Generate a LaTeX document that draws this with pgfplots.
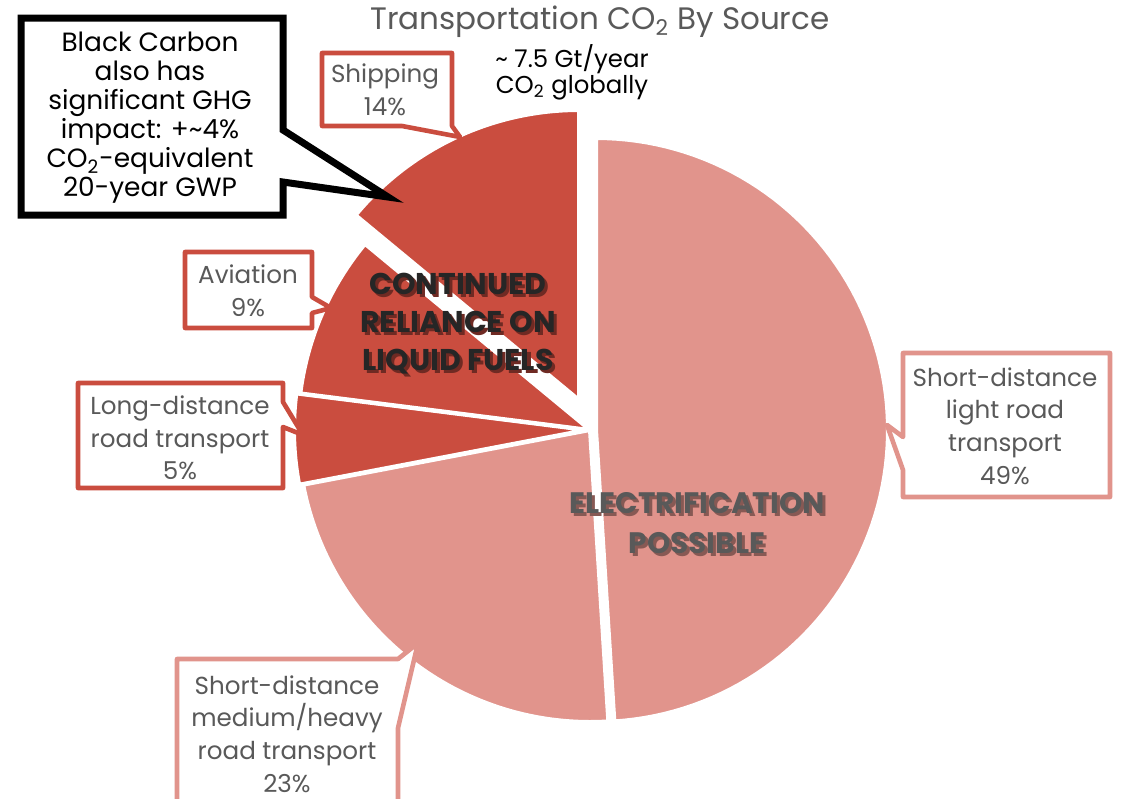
\documentclass[border=0pt]{standalone}
\usepackage{fontspec}
\setmainfont{Poppins}
\usepackage{pgfplots}
\pgfplotsset{compat=1.18}
\definecolor{lightslice}{HTML}{E1948C}
\definecolor{darkslice}{HTML}{CA4D3F}
\definecolor{labelgray}{HTML}{595959}
\definecolor{boldgray}{HTML}{262626}
\colorlet{darkshadow}{darkslice!55!black}
\colorlet{lightshadow}{lightslice!60!black}
\newcommand{\fs}[2]{\fontsize{#1}{#2}\selectfont}
% text with a drop shadow set in the same box
\newcommand{\sh}[2]{\makebox[0pt][l]{\hspace{1.5pt}\raisebox{-1.5pt}{\textcolor{#1}{#2}}}#2}

\begin{document}
\begin{tikzpicture}
\begin{axis}[
    hide axis, scale only axis,
    width=561pt, height=399pt,
    xmin=0, xmax=1122, ymin=0, ymax=798, y dir=reverse,
    clip=false,
    every axis plot/.append style={draw=white, line width=2pt, line join=round, samples=90},
  ]
  % shares in percent, clockwise from 12 o'clock (3.6 deg per percent)
  \addplot[fill=lightslice, domain=3.6*0:3.6*49] ({596+292*sin(x)},{430-292*cos(x)}) -- (axis cs:596,430) -- cycle;
  \addplot[fill=lightslice, domain=3.6*49:3.6*72] ({590+292*sin(x)},{430-292*cos(x)}) -- (axis cs:590,430) -- cycle;
  \addplot[fill=darkslice, domain=3.6*72:3.6*77] ({586+292*sin(x)},{430-292*cos(x)}) -- (axis cs:586,430) -- cycle;
  \addplot[fill=darkslice, domain=3.6*77:3.6*86] ({590+292*sin(x)},{430-292*cos(x)}) -- (axis cs:590,430) -- cycle;
  \addplot[fill=darkslice, domain=3.6*86:3.6*100] ({579+290*sin(x)},{400-290*cos(x)}) -- (axis cs:579,400) -- cycle;

  % callouts
  \begin{scope}[line width=2.3pt, line join=round]
    \draw[darkslice, fill=white] (axis cs:322,53) -- (axis cs:452,53) -- (axis cs:452,126) -- (axis cs:460,137) -- (axis cs:402,126) -- (axis cs:322,126) -- cycle;
    \draw[darkslice, fill=white] (axis cs:185,252) -- (axis cs:312,252) -- (axis cs:312,297) -- (axis cs:331,308) -- (axis cs:312,313) -- (axis cs:312,328) -- (axis cs:185,328) -- cycle;
    \draw[darkslice, fill=white] (axis cs:78,383) -- (axis cs:283,383) -- (axis cs:283,402) -- (axis cs:303,435) -- (axis cs:283,427) -- (axis cs:283,488) -- (axis cs:78,488) -- cycle;
    \draw[lightslice, fill=white] (axis cs:903,353) -- (axis cs:1110,353) -- (axis cs:1110,497) -- (axis cs:903,497) -- (axis cs:903,470) -- (axis cs:887,425) -- (axis cs:903,437) -- cycle;
    \draw[lightslice, fill=white] (axis cs:177,805) -- (axis cs:177,659) -- (axis cs:398,659) -- (axis cs:418,643) -- (axis cs:398,728) -- (axis cs:398,805);
  \end{scope}
  \draw[black, line width=3.5pt, fill=white, line join=miter] (axis cs:21,18) -- (axis cs:283,18) -- (axis cs:283,130) -- (axis cs:388,197) -- (axis cs:283,182) -- (axis cs:283,215) -- (axis cs:21,215) -- cycle;

  % texts
  \node[text=labelgray, font=\fs{15.5}{18}] at (axis cs:600,22) {Transportation CO\textsubscript{2} By Source};
  \node[text=black, align=center, font=\fs{12.2}{12.8}] at (axis cs:572,72) {\textasciitilde{} 7.5 Gt/year\\CO\textsubscript{2} globally};
  \node[text=black, align=center, font=\fs{13.2}{14.5}] at (axis cs:150,118) {Black Carbon\\also has\\significant GHG\\impact: +\textasciitilde4\%\\CO\textsubscript{2}-equivalent\\20-year GWP};
  \begin{scope}[text=labelgray, align=center, font=\fs{12.3}{16.3}]
    \node at (axis cs:385,90) {Shipping\\14\%};
    \node at (axis cs:248,291) {Aviation\\9\%};
    \node at (axis cs:180,438) {Long-distance\\road transport\\5\%};
    \node at (axis cs:1005,426) {Short-distance\\light road\\transport\\49\%};
    \node at (axis cs:287,734) {Short-distance\\medium/heavy\\road transport\\23\%};
  \end{scope}
  \node[text=boldgray, align=center, font=\fs{15}{19}\bfseries] at (axis cs:458,325)
    {\sh{darkshadow}{CONTINUED}\\\sh{darkshadow}{RELIANCE ON}\\\sh{darkshadow}{LIQUID FUELS}};
  \node[text=labelgray, align=center, font=\fs{14.8}{20}\bfseries] at (axis cs:697,525)
    {\sh{lightshadow}{ELECTRIFICATION}\\\sh{lightshadow}{POSSIBLE}};
\end{axis}
\pgfresetboundingbox
\path[use as bounding box] (current axis.south west) rectangle (current axis.north east);
\end{tikzpicture}
\end{document}
